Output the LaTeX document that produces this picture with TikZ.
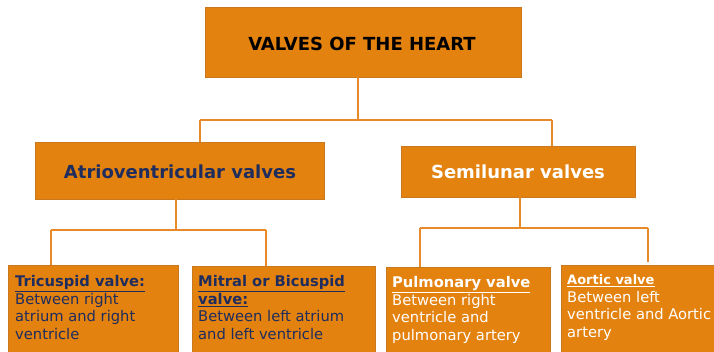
\documentclass[tikz,border=0pt]{standalone}
\usepackage{fontspec}
\setmainfont{DejaVu Sans}
\definecolor{boxfill}{HTML}{E3820F}
\definecolor{boxline}{HTML}{C9781E}
\definecolor{conncol}{HTML}{E8892A}
\definecolor{navy}{HTML}{1F2D5E}
\tikzset{
  box/.style={draw=boxline, line width=0.8pt, fill=boxfill, inner sep=0pt},
  conn/.style={draw=conncol, line width=2.2pt},
  head/.style={font=\fontsize{18}{20}\selectfont\bfseries},
  body/.style={anchor=base west, inner sep=0pt, font=\fontsize{14.7}{17.5}\selectfont},
}
\newcommand{\rows}[1]{\begin{tabular}[t]{@{}l@{}}#1\end{tabular}}
\begin{document}
\begin{tikzpicture}[x=1pt,y=-1pt]
\useasboundingbox (0,0) rectangle (714,352);
\clip (0,0) rectangle (714,352);
% boxes
\node[box, minimum width=316, minimum height=70] (top) at (363,42) {};
\node[head, text=black] (toptext) at (362,44) {VALVES OF THE HEART};
\node[box, minimum width=289, minimum height=57] (atrio) at (179.5,170.5) {};
\node[head, text=navy] (atriotext) at (180,172) {Atrioventricular valves};
\node[box, minimum width=234, minimum height=51] (semi) at (518,171.5) {};
\node[head, text=white] (semitext) at (518,172) {Semilunar valves};

\node[box, minimum width=170, minimum height=95, anchor=north west] (tri) at (8,265) {};
\node[box, minimum width=183, minimum height=94, anchor=north west] (mit) at (192,266) {};
\node[box, minimum width=164, minimum height=93, anchor=north west] (pul) at (386,267) {};
\node[box, minimum width=160, minimum height=95, anchor=north west] (aor) at (561,265) {};

\node[body, text=navy] (tritext) at (15,287) {\rows{\underline{\textbf{Tricuspid valve:}}\\Between right\\atrium and right\\ventricle}};
\node[body, text=navy] (mittext) at (198,287) {\rows{\underline{\textbf{Mitral or Bicuspid}}\\\underline{\textbf{valve:}}\\Between left atrium\\and left ventricle}};
\node[body, text=white] (pultext) at (392,288) {\rows{\underline{\textbf{Pulmonary valve}}\\Between right\\ventricle and\\pulmonary artery}};
\node[body, text=white] (aortext) at (567,285) {\rows{\underline{\fontsize{13}{17.5}\selectfont\textbf{Aortic valve}}\\Between left\\ventricle and Aortic\\artery}};

% connectors
\coordinate (t1) at (358,120);
\coordinate (b1L) at (200,120);
\coordinate (b1R) at (552,120);
\draw[conn] (t1 |- top.south) -- (t1);
\draw[conn] (b1L) -- (b1R);
\draw[conn] (b1L) -- (b1L |- atrio.north);
\draw[conn] (b1R) -- (b1R |- semi.north);

\coordinate (t2) at (176,230);
\coordinate (b2L) at (51,230);
\coordinate (b2R) at (266,230);
\draw[conn] (t2 |- atrio.south) -- (t2);
\draw[conn] (b2L) -- (b2R);
\draw[conn] (b2L) -- (b2L |- tri.north);
\draw[conn] (b2R) -- (b2R |- mit.north);

\coordinate (t3) at (520,228);
\coordinate (b3L) at (420,228);
\coordinate (b3R) at (648,228);
\coordinate (b3E) at (648,262);
\draw[conn] (t3 |- semi.south) -- (t3);
\draw[conn] (b3L) -- (b3R);
\draw[conn] (b3L) -- (b3L |- pul.north);
\draw[conn] (b3R) -- (b3E);
\end{tikzpicture}
\end{document}
